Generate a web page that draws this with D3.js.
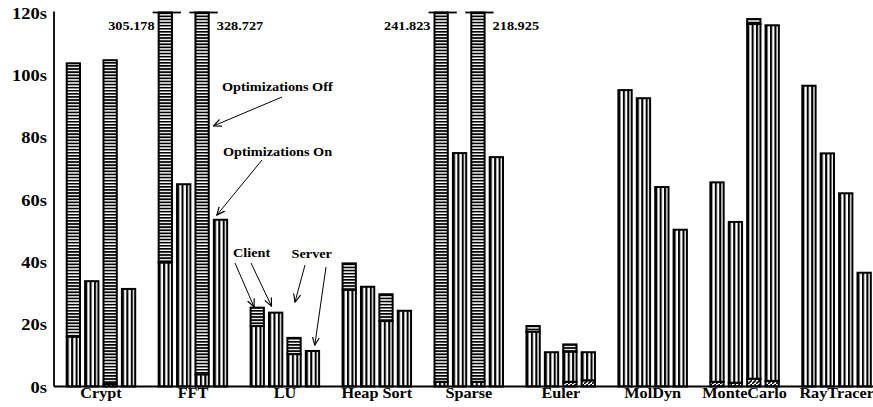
<!DOCTYPE html>
<meta charset="UTF-8">
<script src="https://d3js.org/d3.v7.min.js"></script>
<style>
body { margin: 0; background: #fff; }
text { font-family: "Liberation Serif", "Times New Roman", serif; font-weight: bold; fill: #000; }
</style>
<div id="my_dataviz"></div>
<script>

// benchmarks, 4 bars each (client off, client on, server off, server on)
var groups = ["Crypt", "FFT", "LU", "Heap Sort", "Sparse", "Euler", "MolDyn", "MonteCarlo", "RayTracer"]

// bottom segment (diagonal hatch)
var gcTime = [
    [0, 0, 0, 0], [0, 0, 0, 0], [0, 0, 0, 0], [0, 0, 0, 0], [0, 0, 0, 0],
    [0, 0, 1.5, 2.0], [0, 0, 0, 0], [1.5, 1.2, 2.5, 1.8], [0, 0, 0, 0]
]
// middle segment (vertical stripes)
var execTime = [
    [16.0, 33.8, 0.8, 31.3], [39.8, 64.9, 3.9, 53.5], [19.4, 23.7, 10.4, 11.4],
    [31.0, 32.0, 21.0, 24.3], [1.5, 74.9, 1.5, 73.6], [17.6, 11.0, 9.7, 9.0],
    [95.1, 92.5, 64.0, 50.3], [64.0, 51.6, 113.8, 114.1], [96.5, 74.8, 62.0, 36.5]
]
// top segment (horizontal stripes)
var compileTime = [
    [87.7, 0, 103.9, 0], [265.378, 0, 324.827, 0], [5.9, 0, 5.2, 0],
    [8.5, 0, 8.6, 0], [240.323, 0, 217.425, 0], [1.8, 0, 2.3, 0],
    [0, 0, 0, 0], [0, 0, 1.6, 0], [0, 0, 0, 0]
]
var yTicks = [0, 20, 40, 60, 80, 100, 120]
var yMax = 120

var width = 873
var height = 407

var data = []
groups.forEach(function(g, i){
    for (var j = 0; j < 4; j++) {
        data.push({group: g, bar: j, gc: gcTime[i][j], exec: execTime[i][j], comp: compileTime[i][j]})
    }
})

var svg = d3.select("#my_dataviz")
    .append("svg")
        .attr("width", width)
        .attr("height", height)

// hatch patterns
var defs = svg.append("defs")
var pv = defs.append("pattern").attr("id", "vert")
    .attr("patternUnits", "objectBoundingBox")
    .attr("width", 1/3).attr("height", 1)
pv.append("rect").attr("width", 20).attr("height", 500).attr("fill", "#fff")
pv.append("rect").attr("x", 0).attr("y", 0).attr("width", 2.1).attr("height", 500).attr("fill", "#000")

var ph = defs.append("pattern").attr("id", "horiz")
    .attr("patternUnits", "userSpaceOnUse")
    .attr("width", 10).attr("height", 3.1)
ph.append("rect").attr("width", 10).attr("height", 3.1).attr("fill", "#fff")
ph.append("rect").attr("x", 0).attr("y", 0).attr("width", 10).attr("height", 1.7).attr("fill", "#000")

var pd = defs.append("pattern").attr("id", "diag")
    .attr("patternUnits", "userSpaceOnUse")
    .attr("width", 4).attr("height", 4)
pd.append("rect").attr("width", 4).attr("height", 4).attr("fill", "#fff")
pd.append("path").attr("d", "M0,4 L4,0").attr("stroke", "#000").attr("stroke-width", 1.6)

var marker = defs.append("marker").attr("id", "arrow")
    .attr("viewBox", "0 0 10 10").attr("refX", 9).attr("refY", 5)
    .attr("markerWidth", 9).attr("markerHeight", 9).attr("markerUnits", "userSpaceOnUse")
    .attr("orient", "auto")
marker.append("path").attr("d", "M0,1 L9,5 L0,9").attr("fill", "none").attr("stroke", "#000").attr("stroke-width", 1.3)

// scales
var plotLeft = 54, plotBottom = 386.5, plotTop = 12.5
var x0 = d3.scaleBand().domain(groups).range([plotLeft, plotLeft + 9 * 91.95])
var x1 = d3.scaleBand().domain([0, 1, 2, 3]).range([12.7, 81.2]).paddingInner(0.277)
var y = d3.scaleLinear().domain([0, yMax]).range([plotBottom, plotTop])
var bw = x1.bandwidth()
function bx(d){ return x0(d.group) + x1(d.bar) }

// stacked segments
var keys = ["gc", "exec", "comp"]
var fills = {gc: "url(#diag)", exec: "url(#vert)", comp: "url(#horiz)"}
var stacked = d3.stack().keys(keys)(data)

stacked.forEach(function(layer){
    svg.append("g")
        .selectAll("rect")
        .data(layer.filter(function(d){ return d[1] - d[0] > 0 }))
        .enter()
        .append("rect")
            .attr("x", function(d){ return bx(d.data) })
            .attr("y", function(d){ return y(Math.min(d[1], yMax)) })
            .attr("width", bw)
            .attr("height", function(d){ return y(Math.min(d[0], yMax)) - y(Math.min(d[1], yMax)) })
            .attr("fill", fills[layer.key])
            .attr("stroke", "#000")
            .attr("stroke-width", 2)
})

// bars that run past the top: cap line and real value
var clipped = data.filter(function(d){ return d.gc + d.exec + d.comp > yMax })
svg.append("g").selectAll("line")
    .data(clipped).enter().append("line")
        .attr("x1", function(d){ return bx(d) - 6 })
        .attr("x2", function(d){ return bx(d) + bw + 9 })
        .attr("y1", y(yMax)).attr("y2", y(yMax))
        .attr("stroke", "#000").attr("stroke-width", 1.8)
svg.append("g").selectAll("text")
    .data(clipped).enter().append("text")
        .attr("transform", function(d){
            var tx = d.bar < 2 ? bx(d) - 4 : bx(d) + bw + 8
            return "translate(" + tx + "," + (y(yMax) + 17) + ") scale(1.1,1)"
        })
        .attr("text-anchor", function(d){ return d.bar < 2 ? "end" : "start" })
        .style("font-size", "13px")
        .text(function(d){ return d3.format(".3f")(d.gc + d.exec + d.comp) })

// axes
svg.append("line").attr("x1", plotLeft).attr("x2", plotLeft).attr("y1", plotTop - 1).attr("y2", plotBottom)
    .attr("stroke", "#000").attr("stroke-width", 1.8)
svg.append("line").attr("x1", plotLeft).attr("x2", width).attr("y1", plotBottom).attr("y2", plotBottom)
    .attr("stroke", "#000").attr("stroke-width", 1.8)

svg.append("g").selectAll("text")
    .data(yTicks).enter().append("text")
        .attr("transform", function(d){ return "translate(47," + (y(d) + 6) + ") scale(1.12,1)" })
        .attr("text-anchor", "end")
        .style("font-size", "16.5px")
        .text(function(d){ return d + "s" })

svg.append("g").selectAll("text")
    .data(groups).enter().append("text")
        .attr("transform", function(g){ return "translate(" + (x0(g) + 12.7 + 34.3) + "," + (plotBottom + 11.5) + ") scale(1.12,1)" })
        .attr("text-anchor", "middle")
        .style("font-size", "14.5px")
        .text(function(g){ return g })

// annotations
var notes = [
    {text: "Optimizations Off", x: 222, y: 91},
    {text: "Optimizations On", x: 223, y: 156},
    {text: "Client", x: 233, y: 257},
    {text: "Server", x: 291.5, y: 258}
]
var arrows = [
    {from: [282, 97], group: "FFT", bar: 2, dx: 18, v: 83.6},
    {from: [262, 160], group: "FFT", bar: 3, dx: 3, v: 55},
    {from: [235, 263], group: "LU", bar: 0, dx: 3.5, v: 25.5},
    {from: [251, 263], group: "LU", bar: 1, dx: 2.5, v: 25.8},
    {from: [305, 265], group: "LU", bar: 2, dx: 7.6, v: 27.1},
    {from: [326, 267], group: "LU", bar: 3, dx: 9, v: 13.3}
]
svg.append("g").selectAll("text")
    .data(notes).enter().append("text")
        .attr("transform", function(d){ return "translate(" + d.x + "," + d.y + ") scale(1.1,1)" })
        .style("font-size", "13px")
        .text(function(d){ return d.text })
svg.append("g").selectAll("line")
    .data(arrows).enter().append("line")
        .attr("x1", function(d){ return d.from[0] })
        .attr("y1", function(d){ return d.from[1] })
        .attr("x2", function(d){ return x0(d.group) + x1(d.bar) + d.dx })
        .attr("y2", function(d){ return y(d.v) })
        .attr("stroke", "#000").attr("stroke-width", 1)
        .attr("marker-end", "url(#arrow)")

</script>
